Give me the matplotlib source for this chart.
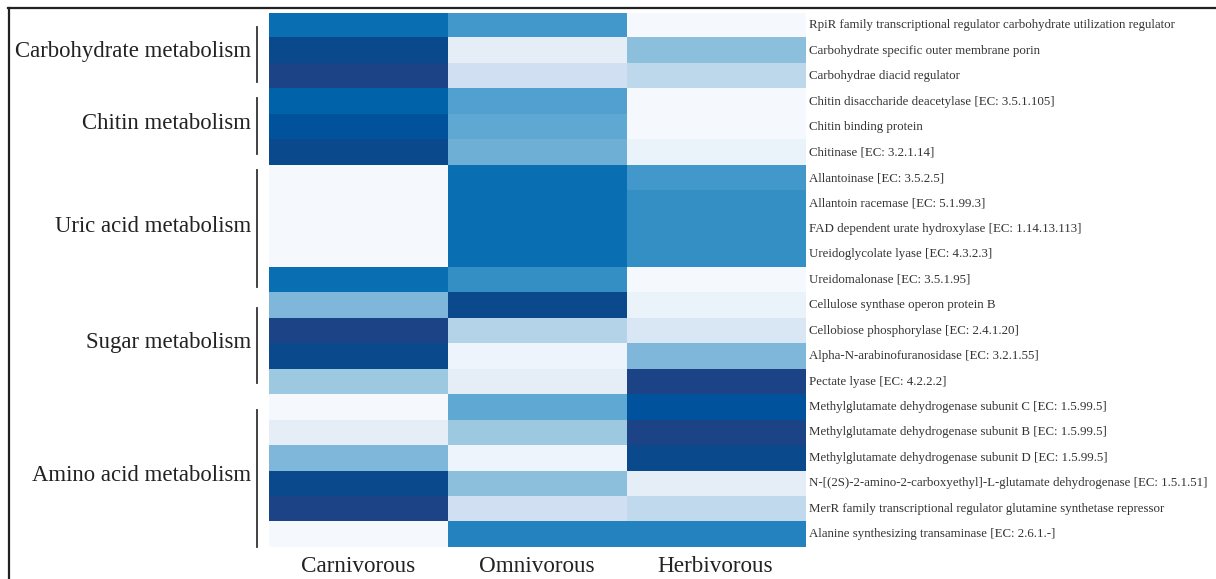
import numpy as np
import matplotlib
matplotlib.use('Agg')
import matplotlib.pyplot as plt
from matplotlib.colors import LinearSegmentedColormap
from matplotlib.lines import Line2D

plt.rcParams['font.family'] = ['Liberation Serif', 'DejaVu Serif']

# Data (relative abundance, 0 = lightest, 1 = darkest)
groups = ['Carnivorous', 'Omnivorous', 'Herbivorous']

genes = [
    'RpiR family transcriptional regulator carbohydrate utilization regulator',
    'Carbohydrate specific outer membrane porin',
    'Carbohydrae diacid regulator',
    'Chitin disaccharide deacetylase [EC: 3.5.1.105]',
    'Chitin binding protein',
    'Chitinase [EC: 3.2.1.14]',
    'Allantoinase [EC: 3.5.2.5]',
    'Allantoin racemase [EC: 5.1.99.3]',
    'FAD dependent urate hydroxylase [EC: 1.14.13.113]',
    'Ureidoglycolate lyase [EC: 4.3.2.3]',
    'Ureidomalonase [EC: 3.5.1.95]',
    'Cellulose synthase operon protein B',
    'Cellobiose phosphorylase [EC: 2.4.1.20]',
    'Alpha-N-arabinofuranosidase [EC: 3.2.1.55]',
    'Pectate lyase [EC: 4.2.2.2]',
    'Methylglutamate dehydrogenase subunit C [EC: 1.5.99.5]',
    'Methylglutamate dehydrogenase subunit B [EC: 1.5.99.5]',
    'Methylglutamate dehydrogenase subunit D [EC: 1.5.99.5]',
    'N-[(2S)-2-amino-2-carboxyethyl]-L-glutamate dehydrogenase [EC: 1.5.1.51]',
    'MerR family transcriptional regulator glutamine synthetase repressor',
    'Alanine synthesizing transaminase [EC: 2.6.1.-]',
]

carnivorous = [0.78, 0.92, 1.00, 0.82, 0.87, 0.92, 0.01, 0.01, 0.01, 0.01, 0.78,
               0.45, 1.00, 0.92, 0.375, 0.01, 0.09, 0.45, 0.92, 1.00, 0.01]
omnivorous = [0.60, 0.09, 0.19, 0.56, 0.53, 0.49, 0.78, 0.78, 0.78, 0.78, 0.65,
              0.92, 0.31, 0.05, 0.09, 0.53, 0.375, 0.05, 0.42, 0.19, 0.69]
herbivorous = [0.01, 0.42, 0.27, 0.01, 0.01, 0.06, 0.60, 0.65, 0.65, 0.65, 0.01,
               0.06, 0.15, 0.45, 1.00, 0.87, 1.00, 0.92, 0.09, 0.25, 0.69]

pathways = ['Carbohydrate metabolism', 'Chitin metabolism', 'Uric acid metabolism',
            'Sugar metabolism', 'Amino acid metabolism']
# bracket extents in row units (top, bottom)
pathway_spans = [(0.56, 2.72), (3.35, 5.55), (6.18, 10.8), (11.6, 14.55), (15.6, 21.0)]

values = np.array([carnivorous, omnivorous, herbivorous]).T

cmap = LinearSegmentedColormap.from_list('blues_custom', [
    (0.0, '#f7fbff'), (0.09, '#e6eff8'), (0.19, '#d0e0f2'), (0.31, '#b4d3e8'),
    (0.375, '#9ecae1'), (0.45, '#7fb8da'), (0.53, '#5fa8d4'), (0.6, '#4298ca'),
    (0.65, '#3490c5'), (0.69, '#2584c0'), (0.78, '#0a6fb3'), (0.82, '#0062a8'),
    (0.87, '#00539d'), (0.92, '#0b4a8e'), (1.0, '#1c4386')])

fig = plt.figure(figsize=(12.16, 5.79), dpi=100)
ax = fig.add_axes([0.221, 0.0553, 0.441, 0.9228])
ax.imshow(values, cmap=cmap, vmin=0, vmax=1, aspect='auto',
          extent=(0, 3, len(genes), 0), interpolation='nearest')
ax.set_xlim(0, 3)
ax.set_ylim(len(genes), 0)
ax.set_xticks([])
ax.set_yticks([])
for s in ax.spines.values():
    s.set_visible(False)

# gene labels on the right
for i, g in enumerate(genes):
    ax.text(3.02, i + 0.5, g, fontsize=9.3, color='#333333', ha='left', va='center',
            clip_on=False)

# column labels at the bottom
for j, g in enumerate(groups):
    ax.text(j + 0.5, len(genes) + 0.98, g, fontsize=16.7, color='#222222',
            ha='center', va='baseline', clip_on=False)

# pathway brackets and labels on the left
for name, (y0, y1) in zip(pathways, pathway_spans):
    ax.plot([-0.065, -0.065], [y0, y1], color='#333333', lw=1.3, clip_on=False)
    ax.text(-0.1, (y0 + y1) / 2 - 0.1, name, fontsize=16.4, color='#222222',
            ha='right', va='center', clip_on=False)

# outer frame (top and left edges visible)
fig.add_artist(Line2D([8 / 1216, 1.0], [1 - 7.5 / 579, 1 - 7.5 / 579],
                      color='#222222', lw=1.6, transform=fig.transFigure))
fig.add_artist(Line2D([8.5 / 1216, 8.5 / 1216], [0.0, 1 - 7.5 / 579],
                      color='#222222', lw=1.6, transform=fig.transFigure))

fig.savefig('out.png', dpi=100)
